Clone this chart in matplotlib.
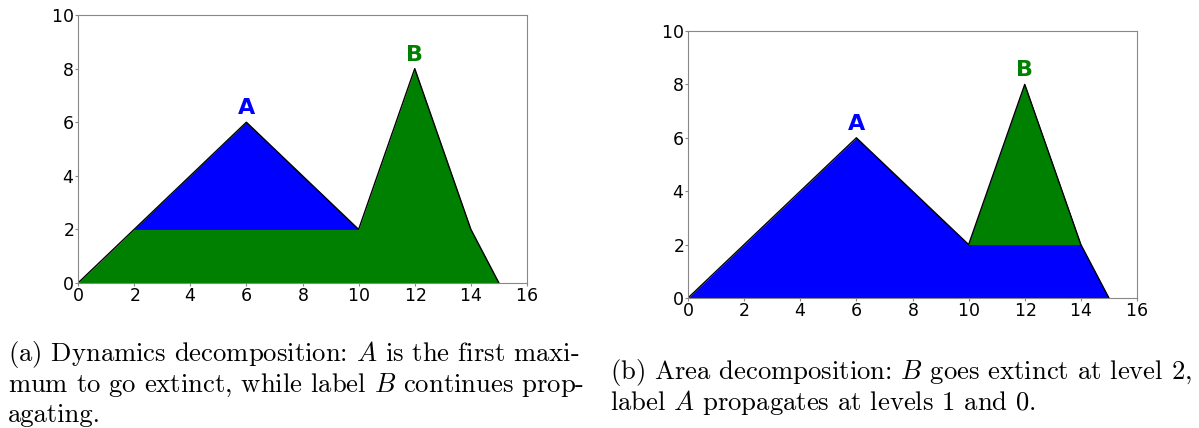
import numpy as np
import matplotlib.pyplot as plt

# profile of the 1-D signal
x_pts = [0, 2, 6, 10, 12, 14, 15]
y_pts = [0, 2, 6, 2, 8, 2, 0]

# peaks and the level at which the decomposition splits them
peak_names = ['A', 'B']
peak_x = [6, 12]
peak_y = [6, 8]
split_level = 2

# (a) dynamics: A goes extinct above level 2 between x=2..10
a_region = [2, 10]
# (b) area: B goes extinct above level 2 between x=10..14
b_region = [10, 14]

blue = '#0000ff'
green = '#008000'

captions = {
    'a': ['(a) Dynamics decomposition: $A$ is the first maxi-',
          'mum to go extinct, while label $B$ continues prop-',
          'agating.'],
    'b': ['(b) Area decomposition: $B$ goes extinct at level 2,',
          'label $A$ propagates at levels 1 and 0.'],
}

plt.rcParams['mathtext.fontset'] = 'cm'
plt.rcParams['axes.formatter.use_mathtext'] = True

fig = plt.figure(figsize=(11.99, 4.28), dpi=100)
ax_a = fig.add_axes([78 / 1199, 1 - 283 / 428, 449 / 1199, 268 / 428])
ax_b = fig.add_axes([688 / 1199, 1 - 298 / 428, 449 / 1199, 267 / 428])

x_arr = np.array(x_pts, dtype=float)
y_arr = np.array(y_pts, dtype=float)


def sub_profile(lo, hi):
    xs = np.linspace(lo, hi, 400)
    return xs, np.interp(xs, x_arr, y_arr)


def draw(ax, base_col, top_col, region):
    ax.fill_between(x_arr, 0, y_arr, color=base_col, lw=0)
    xs, ys = sub_profile(*region)
    ax.fill_between(xs, split_level, ys, where=ys >= split_level,
                    color=top_col, lw=0)
    ax.plot(x_arr, y_arr, color='black', lw=1)
    cols = [blue, green]
    for name, px, py, c in zip(peak_names, peak_x, peak_y, cols):
        ax.text(px, py + 0.15, name, color=c, fontsize=16,
                fontweight='bold', ha='center', va='bottom')
    ax.set_xlim(0, 16)
    ax.set_ylim(0, 10)
    ax.set_xticks(range(0, 17, 2))
    ax.set_yticks(range(0, 11, 2))
    for sp in ax.spines.values():
        sp.set_color('#888888')
    ax.tick_params(length=2, width=0.8, color='#888888', pad=1,
                   labelsize=12.5)


draw(ax_a, green, blue, a_region)
draw(ax_b, blue, green, b_region)

for i, line in enumerate(captions['a']):
    fig.text(8 / 1199, 1 - (361 + i * 30.5) / 428, line, family='cmr10',
             fontsize=19.2, ha='left', va='baseline')
for i, line in enumerate(captions['b']):
    fig.text(610 / 1199, 1 - (379 + i * 31) / 428, line, family='cmr10',
             fontsize=19.2, ha='left', va='baseline')

fig.savefig('out.png', dpi=100)
